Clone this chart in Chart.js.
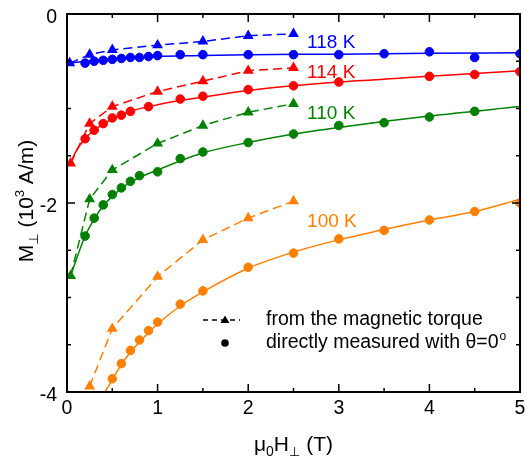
<!DOCTYPE html>
<html>
<head>
<meta charset="utf-8">
<script src="https://cdn.jsdelivr.net/npm/chart.js@4.4.0/dist/chart.umd.min.js"></script>
<style>body{margin:0;background:#fff}</style>
</head>
<body>
<canvas id="chart" width="527" height="456"></canvas>
<script>
// mu0 H (T) and M (10^3 A/m)
// triangles: from the magnetic torque
const torqueH118 = [0.03, 0.25, 0.5, 1, 1.5, 2, 2.5];
const torqueM118 = [-0.52, -0.43, -0.38, -0.33, -0.29, -0.23, -0.21];
const torqueH114 = [0.04, 0.25, 0.5, 1, 1.5, 2, 2.5];
const torqueM114 = [-1.58, -1.16, -0.98, -0.82, -0.71, -0.60, -0.57];
const torqueH110 = [0.04, 0.25, 0.5, 1, 1.5, 2, 2.5];
const torqueM110 = [-2.77, -1.96, -1.65, -1.37, -1.18, -1.04, -0.95];
const torqueH100 = [0.25, 0.5, 1, 1.5, 2, 2.5];
const torqueM100 = [-3.94, -3.33, -2.78, -2.39, -2.16, -1.98];

// circles: directly measured
const directH118 = [0.2, 0.3, 0.4, 0.5, 0.6, 0.7, 0.8, 0.9, 1, 1.25, 1.5, 2, 2.5, 3, 3.5, 4, 4.5, 5];
const directM118 = [-0.52, -0.50, -0.49, -0.48, -0.47, -0.46, -0.46, -0.45, -0.44, -0.43, -0.43, -0.43, -0.43, -0.43, -0.42, -0.40, -0.46, -0.42];
const directH114 = [0.2, 0.3, 0.4, 0.5, 0.6, 0.7, 0.9, 1.25, 1.5, 2, 2.5, 3, 4, 4.5, 5];
const directM114 = [-1.32, -1.23, -1.16, -1.10, -1.07, -1.03, -0.98, -0.90, -0.87, -0.80, -0.76, -0.72, -0.66, -0.64, -0.61];
const directH110 = [0.2, 0.3, 0.4, 0.5, 0.6, 0.7, 0.8, 1, 1.25, 1.5, 2, 2.5, 3, 3.5, 4, 4.5];
const directM110 = [-2.35, -2.16, -2.02, -1.91, -1.84, -1.77, -1.71, -1.67, -1.53, -1.46, -1.36, -1.27, -1.18, -1.15, -1.09, -1.03];
const directH100 = [0.5, 0.6, 0.7, 0.8, 0.9, 1, 1.25, 1.5, 2, 2.5, 3, 3.5, 4, 4.5, 5];
const directM100 = [-3.86, -3.70, -3.56, -3.45, -3.35, -3.26, -3.07, -2.93, -2.68, -2.53, -2.38, -2.29, -2.18, -2.09, -2.00];

// solid fit curves
const fitH118 = [0.03, 0.2, 0.5, 1, 1.5, 2, 3, 4, 5];
const fitM118 = [-0.52, -0.50, -0.47, -0.45, -0.44, -0.43, -0.425, -0.415, -0.41];
const fitH114 = [0.04, 0.1, 0.2, 0.3, 0.5, 0.7, 1, 1.5, 2, 2.5, 3, 4, 5];
const fitM114 = [-1.58, -1.45, -1.32, -1.23, -1.11, -1.03, -0.96, -0.88, -0.81, -0.76, -0.72, -0.66, -0.60];
const fitH110 = [0.04, 0.2, 0.3, 0.4, 0.5, 0.7, 1, 1.5, 2, 2.5, 3, 4, 5];
const fitM110 = [-2.77, -2.35, -2.17, -2.03, -1.93, -1.78, -1.65, -1.47, -1.36, -1.27, -1.20, -1.08, -0.98];
const fitH100 = [0.42, 0.5, 0.6, 0.7, 0.8, 1, 1.25, 1.5, 2, 2.5, 3, 3.5, 4, 4.5, 5];
const fitM100 = [-4.0, -3.87, -3.71, -3.58, -3.47, -3.28, -3.09, -2.94, -2.69, -2.52, -2.39, -2.28, -2.18, -2.09, -1.96];

const temps = ["118 K", "114 K", "110 K", "100 K"];
const labelAt = [[2.65, -0.36], [2.65, -0.68], [2.65, -1.11], [2.65, -2.25]];
const colors = ["#0000ff", "#ff0000", "#008000", "#ff8000"];

const torque = [[torqueH118, torqueM118], [torqueH114, torqueM114], [torqueH110, torqueM110], [torqueH100, torqueM100]];
const direct = [[directH118, directM118], [directH114, directM114], [directH110, directM110], [directH100, directM100]];
const fits = [[fitH118, fitM118], [fitH114, fitM114], [fitH110, fitM110], [fitH100, fitM100]];

const FONT = "'Liberation Sans', Arial, 'DejaVu Sans', sans-serif";

function pts(pair) {
	return pair[0].map((h, i) => ({x: h, y: pair[1][i]}));
}

let datasets = [];
for (let k = 0; k < 4; k++) {
	datasets.push({
		data: pts(direct[k]),
		showLine: false,
		pointStyle: "circle",
		pointRadius: 4.3,
		pointBorderWidth: 1,
		backgroundColor: colors[k],
		borderColor: colors[k]
	});
	datasets.push({
		data: pts(torque[k]),
		showLine: true,
		borderDash: [9, 5],
		borderWidth: 1.5,
		pointStyle: "triangle",
		pointRadius: 6.3,
		pointBorderWidth: 0,
		backgroundColor: colors[k],
		borderColor: colors[k]
	});
	datasets.push({
		data: pts(fits[k]),
		showLine: true,
		borderWidth: 1.5,
		pointRadius: 0,
		cubicInterpolationMode: "monotone",
		borderColor: colors[k]
	});
}

// draws text parts with sub/superscripts, centred on x
function richText(ctx, parts, x, y) {
	let w = 0;
	for (let p of parts) {
		ctx.font = p.size + "px " + FONT;
		p.w = ctx.measureText(p.t).width;
		w += p.w;
	}
	let cx = x - w / 2;
	for (let p of parts) {
		ctx.font = p.size + "px " + FONT;
		ctx.fillText(p.t, cx, y + (p.dy || 0));
		cx += p.w;
	}
}

function noPad(s) {
	s.paddingTop = 0;
	s.paddingBottom = 0;
	s.paddingLeft = 0;
	s.paddingRight = 0;
}

const decor = {
	id: "decor",
	afterDatasetsDraw(chart) {
		const ctx = chart.ctx;
		const a = chart.chartArea;
		const xs = chart.scales.x, ys = chart.scales.y;
		ctx.save();
		ctx.strokeStyle = "#000";
		ctx.lineWidth = 2;
		ctx.strokeRect(a.left, a.top, a.right - a.left, a.bottom - a.top);
		ctx.lineWidth = 1.5;
		ctx.beginPath();
		for (let v = 0; v <= 5; v += 0.5) {
			const px = xs.getPixelForValue(v);
			const len = Number.isInteger(v) ? 8 : 4;
			ctx.moveTo(px, a.bottom); ctx.lineTo(px, a.bottom - len);
			ctx.moveTo(px, a.top); ctx.lineTo(px, a.top + len);
		}
		for (let v = -4; v <= 0; v += 0.5) {
			const py = ys.getPixelForValue(v);
			const len = v % 2 === 0 ? 8 : 4;
			ctx.moveTo(a.left, py); ctx.lineTo(a.left + len, py);
			ctx.moveTo(a.right, py); ctx.lineTo(a.right - len, py);
		}
		ctx.stroke();

		// temperature labels
		ctx.textBaseline = "alphabetic";
		ctx.textAlign = "left";
		ctx.font = "19px " + FONT;
		for (let k = 0; k < 4; k++) {
			ctx.fillStyle = colors[k];
			ctx.fillText(temps[k], xs.getPixelForValue(labelAt[k][0]), ys.getPixelForValue(labelAt[k][1]));
		}

		// legend
		ctx.fillStyle = "#000";
		ctx.strokeStyle = "#000";
		ctx.lineWidth = 1.5;
		ctx.setLineDash([5, 4]);
		ctx.beginPath();
		ctx.moveTo(203, 320); ctx.lineTo(240, 320);
		ctx.stroke();
		ctx.setLineDash([]);
		ctx.beginPath();
		ctx.moveTo(225, 315.5); ctx.lineTo(229.5, 323); ctx.lineTo(220.5, 323);
		ctx.closePath(); ctx.fill();
		ctx.beginPath();
		ctx.arc(225, 343, 3.8, 0, Math.PI * 2);
		ctx.fill();
		ctx.font = "19.5px " + FONT;
		ctx.fillText("from the magnetic torque", 266, 325);
		const t2 = "directly measured with \u03b8=0";
		ctx.fillText(t2, 266, 348);
		const w2 = ctx.measureText(t2).width;
		ctx.font = "12px " + FONT;
		ctx.fillText("o", 266 + w2 + 1, 340);

		// axis titles
		ctx.textAlign = "left";
		richText(ctx, [
			{t: "\u03bc", size: 21},
			{t: "0", size: 14, dy: 5},
			{t: "H", size: 21},
			{t: "\u22a5", size: 13, dy: 5},
			{t: " (T)", size: 21}
		], (a.left + a.right) / 2, 451);

		ctx.translate(33, 201);
		ctx.rotate(-Math.PI / 2);
		richText(ctx, [
			{t: "M", size: 21},
			{t: "\u22a5", size: 13, dy: 5},
			{t: " (10", size: 21},
			{t: "3", size: 13, dy: -9},
			{t: " A/m)", size: 21}
		], 0, 0);
		ctx.restore();
	}
};

new Chart("chart", {
	type: "scatter",
	data: { datasets: datasets },
	options: {
		responsive: false,
		animation: false,
		layout: { padding: { top: 14, right: 7, left: 0, bottom: 0 } },
		plugins: {
			legend: { display: false },
			tooltip: { enabled: false }
		},
		scales: {
			x: {
				type: "linear",
				min: 0,
				max: 5,
				afterFit: (s) => { s.height = 64; noPad(s); },
				grid: { display: false, drawTicks: false },
				border: { display: false },
				ticks: {
					stepSize: 1,
					padding: 5,
					color: "#000",
					font: { family: FONT, size: 19.5 },
					callback: (v) => String(v)
				}
			},
			y: {
				type: "linear",
				min: -4,
				max: 0,
				afterFit: (s) => { s.width = 67; noPad(s); },
				grid: { display: false, drawTicks: false },
				border: { display: false },
				ticks: {
					stepSize: 2,
					padding: 10,
					labelOffset: 4,
					color: "#000",
					font: { family: FONT, size: 19.5 },
					callback: (v) => String(v)
				}
			}
		}
	},
	plugins: [decor]
});
</script>
</body>
</html>
